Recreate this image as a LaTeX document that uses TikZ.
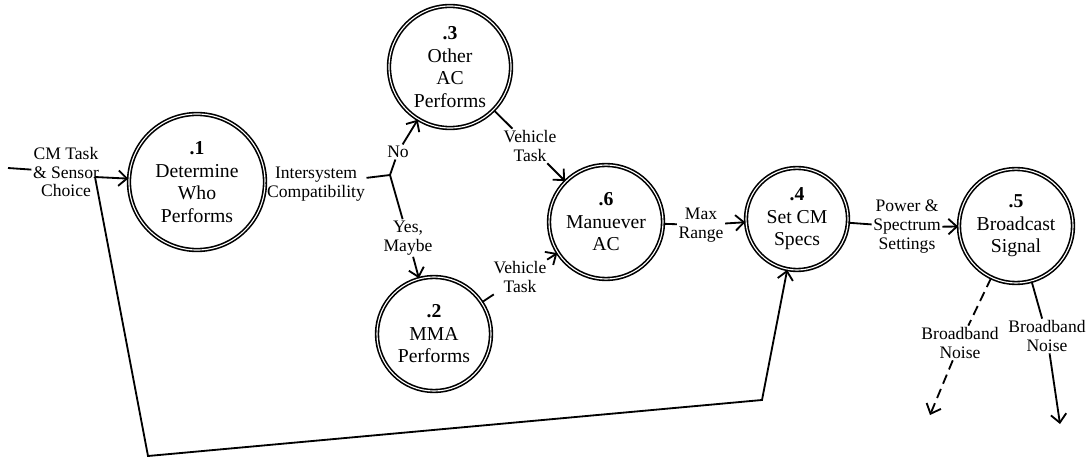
\documentclass[tikz,border=0pt]{standalone}
\usepackage{fontspec}
\setmainfont{Liberation Serif}
\usetikzlibrary{arrows.meta, positioning}

\begin{document}
\begin{tikzpicture}[
        x=0.025cm, y=-0.025cm,
        process/.style={
          circle,
          draw,
          double,
          double distance=0.8pt,
          line width=1.15pt,
          align=center,
          inner sep=0pt,
          font=\fontsize{14}{16}\selectfont
        },
        wire/.style={
          line width=1.3pt
        },
        flow/.style={
          line width=1.3pt,
          -{Straight Barb[length=6pt,width=11pt]}
        },
        flowtext/.style={
          align=center,
          inner sep=1pt,
          font=\fontsize{12.5}{13.5}\selectfont
        }
      ]

      \useasboundingbox (0,0) rectangle (1090,458);

      % Processes
      \node[process, minimum size=3.4cm] (determine) at (197,182) {\textbf{.1}\\Determine\\Who\\Performs};
      \node[process, minimum size=3.05cm] (other) at (450,67) {\textbf{.3}\\Other\\AC\\Performs};
      \node[process, minimum size=2.85cm] (mma) at (434,334) {\textbf{.2}\\MMA\\Performs};
      \node[process, minimum size=2.85cm] (maneuver) at (606,222) {\textbf{.6}\\Manuever\\AC};
      \node[process, minimum size=2.55cm] (setcm) at (797,219) {\textbf{.4}\\Set CM\\Specs};
      \node[process, minimum size=2.85cm] (broadcast) at (1016,226) {\textbf{.5}\\Broadcast\\Signal};

      % Flow labels
      \node[flowtext] (cmtask) at (66,172) {CM Task\\\& Sensor\\Choice};
      \node[flowtext] (intersys) at (316,184) {Intersystem\\Compatibility};
      \node[flowtext] (no) at (398,152) {No};
      \node[flowtext] (yes) at (408,238) {Yes,\\Maybe};
      \node[flowtext] (vtaskother) at (530,146) {Vehicle\\Task};
      \node[flowtext] (vtaskmma) at (520,277) {Vehicle\\Task};
      \node[flowtext] (maxrange) at (701,225) {Max\\Range};
      \node[flowtext] (power) at (907,227) {Power \&\\Spectrum\\Settings};
      \node[flowtext] (noiseleft) at (960,343) {Broadband\\Noise};
      \node[flowtext] (noiseright) at (1047,336) {Broadband\\Noise};

      % Points
      \coordinate (src) at (8,168);
      \coordinate (split) at (95,177);
      \coordinate (branch) at (390,175);
      \coordinate (fbdown) at (148,456);
      \coordinate (fbright) at (762,400);
      \coordinate (sinkleft) at (930,415);
      \coordinate (sinkright) at (1060,424);

      % Flows
      \draw[wire] (src) -- (cmtask);
      \draw[flow] (split) -- (determine);
      \draw[flow] (split) -- (fbdown) -- (fbright) -- (setcm);
      \draw[wire] (determine) -- (intersys);
      \draw[wire] (intersys) -- (branch);
      \draw[wire] (branch) -- (no);
      \draw[flow] (no) -- (other);
      \draw[wire] (branch) -- (yes);
      \draw[flow] (yes) -- (mma);
      \draw[wire] (other) -- (vtaskother);
      \draw[flow] (vtaskother) -- (maneuver);
      \draw[wire] (mma) -- (vtaskmma);
      \draw[flow] (vtaskmma) -- (maneuver);
      \draw[wire] (maneuver) -- (maxrange);
      \draw[flow] (maxrange) -- (setcm);
      \draw[wire] (setcm) -- (power);
      \draw[flow] (power) -- (broadcast);
      \draw[wire, dash pattern=on 7pt off 4pt] (broadcast) -- (noiseleft);
      \draw[flow, dash pattern=on 7pt off 4pt] (noiseleft) -- (sinkleft);
      \draw[wire] (broadcast) -- (noiseright);
      \draw[flow] (noiseright) -- (sinkright);

    \end{tikzpicture}
\end{document}
